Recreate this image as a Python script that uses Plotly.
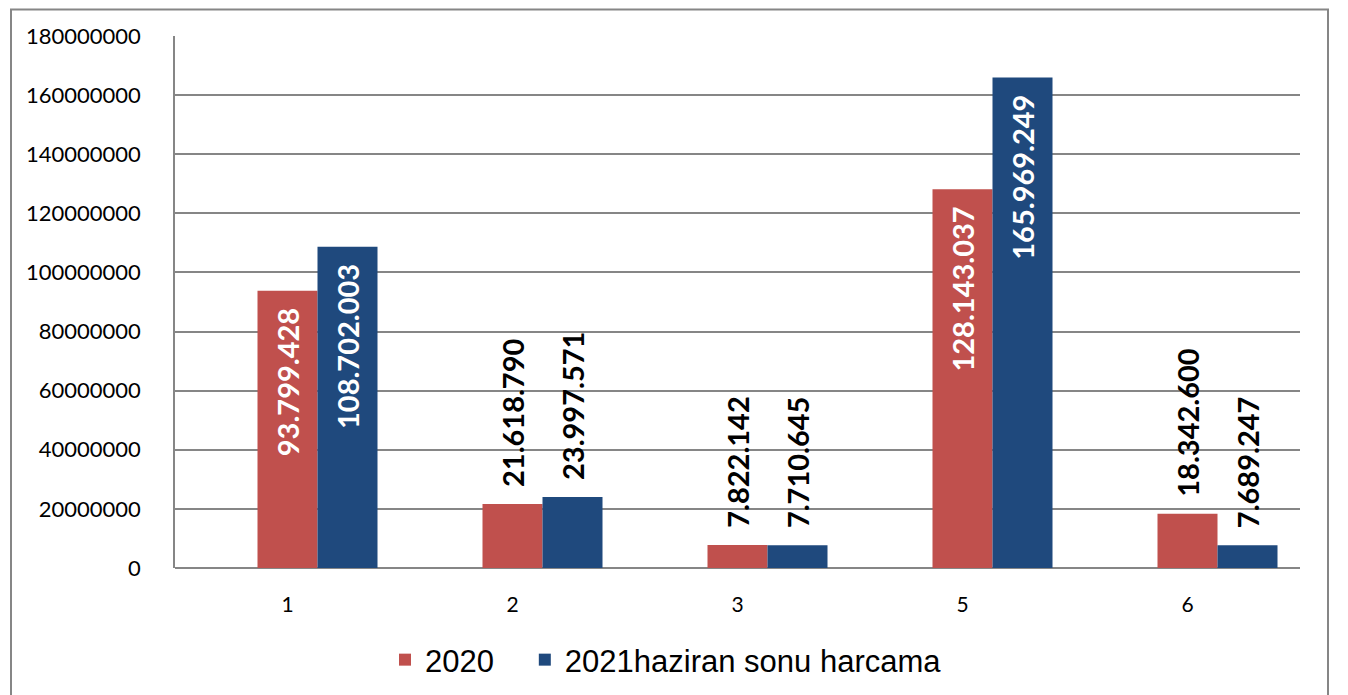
import plotly.graph_objects as go

categories = ["1", "2", "3", "5", "6"]
series_names = ["2020", "2021haziran sonu harcama"]
values_2020 = [93799428, 21618790, 7822142, 128143037, 18342600]
values_2021 = [108702003, 23997571, 7710645, 165969249, 7689247]
tick_vals = [0, 20000000, 40000000, 60000000, 80000000, 100000000, 120000000, 140000000, 160000000, 180000000]
tick_text = [str(v) for v in tick_vals]

RED = "#C0504D"
BLUE = "#1F497D"
GRID = "#868686"
NB = "\u00a0"


def fmt(v):
    return f"{v:,}".replace(",", ".")


def positions(vals):
    return ["inside" if v > 60000000 else "outside" for v in vals]


def labels(vals):
    out = []
    for v, p in zip(vals, positions(vals)):
        out.append(fmt(v) + NB * 2 if p == "inside" else NB * 2 + fmt(v))
    return out


BAR_W = 60 / 225
series = [
    (series_names[0] + NB * 3, values_2020, RED, -BAR_W / 2),
    (series_names[1], values_2021, BLUE, BAR_W / 2),
]

fig = go.Figure()
for name, vals, col, off in series:
    fig.add_trace(go.Bar(
        x=categories, y=vals, name=name,
        width=BAR_W, offset=off,
        marker=dict(color=col, line=dict(width=0)),
        text=labels(vals),
        textposition=positions(vals),
        textangle=-90,
        insidetextanchor="end",
        constraintext="none",
        cliponaxis=False,
        insidetextfont=dict(color="white", size=29, family="Lato", weight="bold"),
        outsidetextfont=dict(color="black", size=29, family="Lato", weight="bold"),
    ))

OFF = 8  # page body margin
W, H = 1348, 695
L, T = 175 - OFF, 36 - OFF
R = W - (1300 - OFF)
B = H - (568 - OFF)
pw, ph = W - L - R, H - T - B


def px_x(x):
    return (x - OFF - L) / pw


def px_y(y):
    return (H - B - (y - OFF)) / ph


fig.update_layout(
    width=W, height=H,
    margin=dict(l=L, r=R, t=T, b=B),
    paper_bgcolor="white", plot_bgcolor="white",
    barmode="overlay",
    font=dict(family="Lato", color="black"),
    showlegend=True,
    legend=dict(orientation="h", x=px_x(385), xanchor="left", y=px_y(660), yanchor="middle",
                font=dict(family="Liberation Sans", size=31, color="black"),
                itemwidth=30, tracegroupgap=0),
    xaxis=dict(type="category", showgrid=False, showline=False, ticks="",
               tickfont=dict(size=21, family="Lato"), ticklabelstandoff=22),
    yaxis=dict(range=[0, 180000000], tickvals=tick_vals, ticktext=tick_text,
               showgrid=True, gridcolor=GRID, gridwidth=1.5,
               showline=True, linecolor=GRID, linewidth=1.5,
               zeroline=True, zerolinecolor=GRID, zerolinewidth=1.5,
               ticks="", tickfont=dict(size=22, family="Lato"), ticklabelstandoff=28),
    shapes=[dict(type="rect", xref="paper", yref="paper",
                 x0=px_x(11), x1=px_x(1328), y0=px_y(730), y1=px_y(9.5),
                 line=dict(color=GRID, width=2), fillcolor="rgba(0,0,0,0)", layer="below")],
)

fig.write_html("out.html")
